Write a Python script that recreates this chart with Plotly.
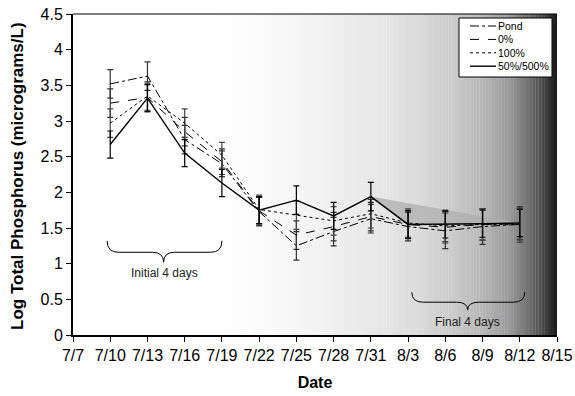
import plotly.graph_objects as go

# ---------------- data ----------------
tick_labels = ["7/7", "7/10", "7/13", "7/16", "7/19", "7/22", "7/25", "7/28",
               "7/31", "8/3", "8/6", "8/9", "8/12", "8/15"]
tick_days = [0, 3, 6, 9, 12, 15, 18, 21, 24, 27, 30, 33, 36, 39]   # days after 7/7

sample_days = [3, 6, 9, 12, 15, 18, 21, 24, 27, 30, 33, 36]        # 7/10 ... 8/12

series_names = ["Pond", "0%", "100%", "50%/500%"]
pond     = [3.52, 3.63, 2.74, 2.40, 1.73, 1.25, 1.45, 1.63, 1.52, 1.46, 1.52, 1.55]
zero_pct = [3.25, 3.33, 2.85, 2.43, 1.74, 1.40, 1.52, 1.66, 1.55, 1.51, 1.55, 1.56]
hund_pct = [2.97, 3.35, 2.97, 2.52, 1.76, 1.68, 1.60, 1.70, 1.57, 1.53, 1.55, 1.55]
fifty    = [2.67, 3.32, 2.55, 2.13, 1.75, 1.89, 1.67, 1.94, 1.55, 1.55, 1.56, 1.57]

err_pond = [0.20, 0.20, 0.20, 0.18, 0.20, 0.20, 0.20, 0.20, 0.20, 0.25, 0.25, 0.25]
err_zero = [0.20, 0.20, 0.20, 0.18, 0.20, 0.20, 0.20, 0.20, 0.20, 0.22, 0.22, 0.22]
err_hund = [0.20, 0.20, 0.20, 0.18, 0.20, 0.20, 0.20, 0.20, 0.20, 0.22, 0.22, 0.22]
err_fifty = [0.19, 0.19, 0.19, 0.19, 0.19, 0.20, 0.19, 0.20, 0.19, 0.19, 0.19, 0.19]

# ---------------- figure ----------------
FONT = "Arial, Liberation Sans, sans-serif"
fig = go.Figure()

# background gradient (white on the left -> black at the right edge)
grad_stops = [(0, 255), (11, 255), (15, 251), (20, 242), (25, 230), (28, 218),
              (31, 200), (33.5, 178), (35, 155), (36.5, 120), (37.8, 75), (39, 25)]
N = 156
for i in range(N):
    x0 = 39 * i / N
    x1 = 39 * (i + 1) / N
    xm = (x0 + x1) / 2
    for (a, ga), (b, gb) in zip(grad_stops[:-1], grad_stops[1:]):
        if a <= xm <= b:
            g = ga + (gb - ga) * (xm - a) / (b - a)
            break
    g = int(round(g))
    fig.add_shape(type="rect", xref="x", yref="paper", x0=x0, x1=x1 + 0.02, y0=0, y1=1,
                  fillcolor=f"rgb({g},{g},{g})", line_width=0, layer="below")

# light grey wedge above the solid line at the end of the experiment
wedge_x = sample_days[7:] + sample_days[7:][::-1]
wedge_y = [fifty[7] + (fifty[-1] - fifty[7]) * (d - sample_days[7]) / (sample_days[-1] - sample_days[7])
           for d in sample_days[7:]] + fifty[7:][::-1]
fig.add_trace(go.Scatter(x=wedge_x, y=wedge_y, fill="toself", mode="none",
                         fillcolor="rgba(175,175,175,0.75)", showlegend=False, hoverinfo="skip"))

styles = [("dashdot", 1, "#333333"), ("dash", 1, "#333333"),
          ("dot", 1, "#444444"), ("solid", 1.4, "black")]
values = [pond, zero_pct, hund_pct, fifty]
errors = [err_pond, err_zero, err_hund, err_fifty]

for name, y, err, (dash, width, ecolor) in zip(series_names, values, errors, styles):
    fig.add_trace(go.Scatter(
        x=sample_days, y=y, name=name, mode="lines", showlegend=False,
        line=dict(color="black", dash=dash, width=width),
        error_y=dict(type="data", array=err, visible=True, color=ecolor,
                     thickness=1.2, width=3),
    ))

# legend box drawn in the upper right corner (paper coords from pixel layout)
L, T, W, H = 73, 14, 484, 321
def px(xp):
    return (xp - L) / W
def py(yp):
    return (T + H - yp) / H

fig.add_shape(type="rect", xref="paper", yref="paper", x0=px(459), x1=px(552),
              y0=py(77), y1=py(18), fillcolor="white", line=dict(color="black", width=1))
for k, (name, (dash, width, _)) in enumerate(zip(series_names, styles)):
    yrow = 26 + k * 13.4
    fig.add_shape(type="line", xref="paper", yref="paper", x0=px(470), x1=px(496),
                  y0=py(yrow), y1=py(yrow), line=dict(color="black", dash=dash, width=width))
    fig.add_annotation(xref="paper", yref="paper", x=px(496), y=py(yrow), text=name,
                       showarrow=False, xanchor="left", yanchor="middle",
                       font=dict(family=FONT, size=10.5, color="black"))

# curly braces
def brace(x0, x1, xm, ytop, yh, ytip):
    r = 0.9
    return (f"M {x0},{ytop} Q {x0},{yh} {x0 + r},{yh} L {xm - r},{yh} "
            f"Q {xm},{yh} {xm},{ytip} Q {xm},{yh} {xm + r},{yh} "
            f"L {x1 - r},{yh} Q {x1},{yh} {x1},{ytop}")

fig.add_shape(type="path", xref="x", yref="y", path=brace(2.75, 12.0, 7.3, 1.32, 1.16, 1.02),
              line=dict(color="black", width=1))
fig.add_shape(type="path", xref="x", yref="y", path=brace(27.3, 36.4, 31.8, 0.60, 0.46, 0.35),
              line=dict(color="black", width=1))
fig.add_annotation(x=7.4, y=0.87, text="Initial 4 days", showarrow=False,
                   font=dict(family=FONT, size=12, color="#222"))
fig.add_annotation(x=31.8, y=0.18, text="Final 4 days", showarrow=False,
                   font=dict(family=FONT, size=12, color="#222"))

# y-axis title (placed as rotated text centred on the plot height)
fig.add_annotation(xref="paper", yref="paper", x=px(17), y=py(176),
                   text="<b>Log Total Phosphorus (micrograms/L)</b>", textangle=-90,
                   showarrow=False, xanchor="center", yanchor="middle",
                   font=dict(family=FONT, size=17, color="black"))

fig.update_layout(
    width=575, height=396,
    margin=dict(l=73, r=18, t=14, b=61, autoexpand=False),
    paper_bgcolor="white", plot_bgcolor="white",
    font=dict(family=FONT, color="black", size=16),
    showlegend=False,
    xaxis=dict(range=[0, 39], tickvals=tick_days, ticktext=tick_labels, automargin=False,
               showgrid=False, zeroline=False, showline=True, linecolor="black",
               linewidth=2, ticks="outside", ticklen=5, tickcolor="black",
               tickfont=dict(size=16),
               title=dict(text="<b>Date</b>", font=dict(size=16), standoff=14)),
    yaxis=dict(range=[0, 4.5], dtick=0.5, showgrid=False, zeroline=False, automargin=False,
               showline=True, linecolor="black", linewidth=2, ticks="outside",
               ticklen=5, tickcolor="black", tickfont=dict(size=16)),
)
fig.add_shape(type="line", xref="paper", yref="paper", x0=0, x1=1, y0=1, y1=1,
              line=dict(color="black", width=1))

fig.write_html("out.html", config={"displayModeBar": False},
               post_script="document.body.style.margin='0';document.body.style.overflow='hidden';")
